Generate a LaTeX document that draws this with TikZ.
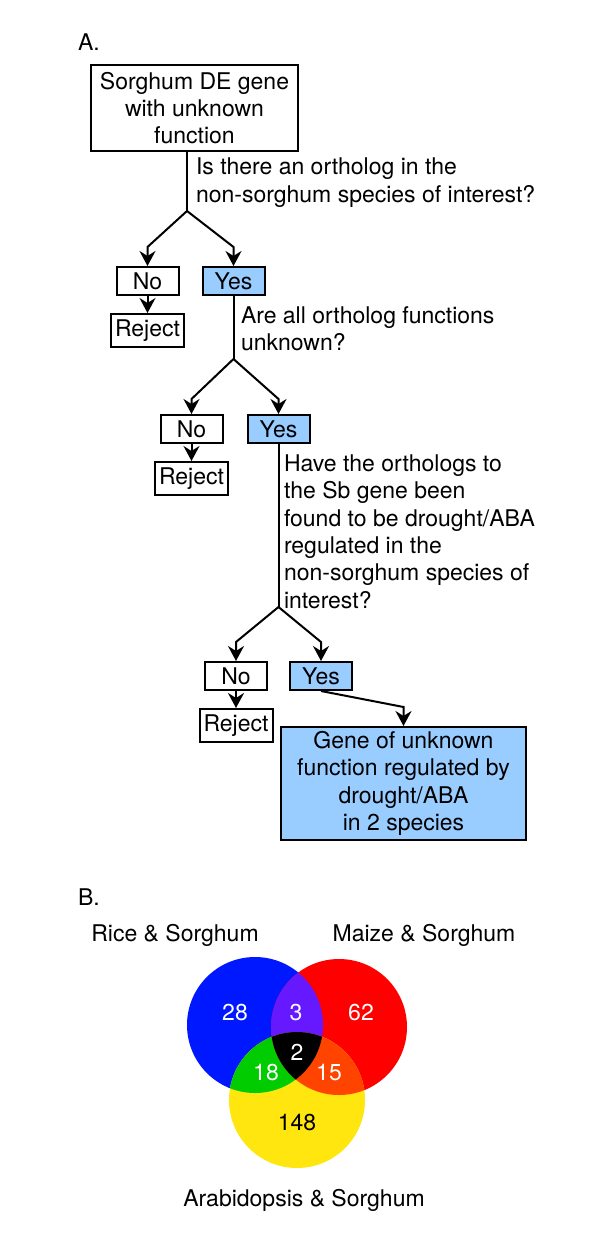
\documentclass[tikz,border=0pt]{standalone}
\usepackage{fontspec}
\setmainfont{TeX Gyre Heros}
\usetikzlibrary{positioning,arrows.meta}
\definecolor{boxblue}{RGB}{153,204,255}
\definecolor{venn blue}{RGB}{0,24,255}
\definecolor{venn red}{RGB}{255,0,0}
\definecolor{venn yellow}{RGB}{255,230,15}
\definecolor{venn purple}{RGB}{102,24,255}
\definecolor{venn green}{RGB}{0,204,0}
\definecolor{venn orange}{RGB}{255,68,0}

\begin{document}
\begin{tikzpicture}[x=0.5pt,y=-0.5pt,>={Stealth[length=7.5pt,width=8pt,inset=2.5pt]},line width=1pt,font=\fontsize{11.5}{13.7}\selectfont,
    box node/.style={draw,line width=1pt,inner sep=0pt,align=center},
    answer node/.style={box node,minimum width=31pt,minimum height=14pt},
    yes node/.style={answer node,fill=boxblue},
    reject node/.style={box node,minimum width=36.5pt,minimum height=16.5pt},
    question/.style={anchor=west,inner sep=0pt,align=left},
    number/.style={text=white}]
                \useasboundingbox (0,0) rectangle (600,1257);

                % A. flow chart
                \node[anchor=west,inner sep=0pt] (labA) at (77,42) {A.};
                \node[box node,minimum width=103.5pt,minimum height=43pt] (gene) at (194.5,108) {Sorghum DE gene\\with unknown\\function};
                \node[question] (q1) at (195,182.5) {Is there an ortholog in the\\non-sorghum species of interest?};
                \node[answer node] (no1) at (147.5,281) {No};
                \node[yes node] (yes1) [right=11pt of no1] {Yes};
                \node[reject node] (rej1) [below=8.5pt of no1] {Reject};

                \node[question] (q2) at (240,328.5) {Are all ortholog functions\\unknown?};
                \node[answer node] (no2) at (191.5,429) {No};
                \node[yes node] (yes2) [right=11.5pt of no2] {Yes};
                \node[reject node] (rej2) [below=8.5pt of no2] {Reject};

                \node[question] (q3) at (283,531.5) {Have the orthologs to\\the Sb gene been\\found to be drought/ABA\\regulated in the\\non-sorghum species of\\interest?};
                \node[answer node] (no3) at (236,676) {No};
                \node[yes node] (yes3) [right=10.5pt of no3] {Yes};
                \node[reject node] (rej3) [below=8.5pt of no3] {Reject};

                \node[box node,fill=boxblue,minimum width=122.5pt,minimum height=56.5pt] (final) at (403.5,783.5) {Gene of unknown\\function regulated by\\drought/ABA\\in 2 species};

                \coordinate (split1) at (187,211);
                \coordinate (split2) at ([yshift=-31.5pt]yes1.south);
                \coordinate (split3) at ([yshift=-81.5pt]yes2.south);

                \draw (gene.south -| split1) -- (split1);
                \draw[->] (split1) -- ([yshift=9.5pt]no1.north) -- (no1.north);
                \draw[->] (split1) -- ([yshift=9.5pt]yes1.north) -- (yes1.north);
                \draw[->] (no1) -- (rej1);

                \draw (yes1.south) -- (split2);
                \draw[->] (split2) -- ([yshift=7.5pt]no2.north) -- (no2.north);
                \draw[->] (split2) -- ([yshift=7.5pt]yes2.north) -- (yes2.north);
                \draw[->] (no2) -- (rej2);

                \draw (yes2.south) -- (split3);
                \draw[->] (split3) -- ([yshift=9.5pt]no3.north) -- (no3.north);
                \draw[->] (split3) -- ([yshift=9.5pt]yes3.north) -- (yes3.north);
                \draw[->] (no3) -- (rej3);

                \draw[->] (yes3.south) -- ([yshift=9.5pt]final.north) -- (final.north);

                % B. venn diagram
                \node[anchor=west,inner sep=0pt] (labB) at (77,897) {B.};
                \node (rice) at (175,935) {Rice \& Sorghum};
                \node (maize) at (424,935) {Maize \& Sorghum};
                \node (arab) at (304,1200) {Arabidopsis \& Sorghum};

                \fill[venn blue] (255,1025) circle (34pt);
                \fill[venn red] (339,1027) circle (34pt);
                \fill[venn yellow] (297,1100) circle (34pt);
                \begin{scope}
                    \clip (255,1025) circle (34pt);
                    \fill[venn purple] (339,1027) circle (34pt);
                    \fill[venn green] (297,1100) circle (34pt);
                \end{scope}
                \begin{scope}
                    \clip (339,1027) circle (34pt);
                    \fill[venn orange] (297,1100) circle (34pt);
                \end{scope}
                \begin{scope}
                    \clip (255,1025) circle (34pt);
                    \clip (339,1027) circle (34pt);
                    \fill[black] (297,1100) circle (34pt);
                \end{scope}

                \node[number] (n28) at (235,1013) {28};
                \node[number] (n3) at (296,1013) {3};
                \node[number] (n62) at (361,1013) {62};
                \node[number] (n2) at (297,1052) {2};
                \node[number] (n18) at (266,1073) {18};
                \node[number] (n15) at (329,1073) {15};
                \node (n148) at (297,1123) {148};
            \end{tikzpicture}
\end{document}
